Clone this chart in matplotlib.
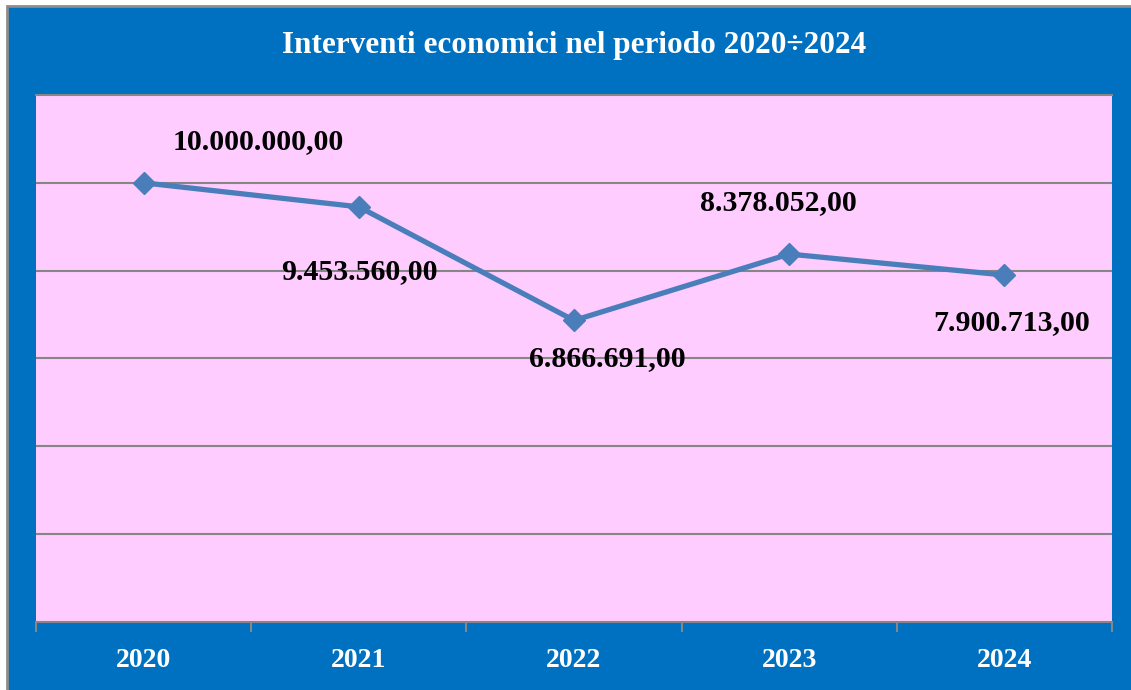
import matplotlib
matplotlib.use("Agg")
import matplotlib.pyplot as plt
from matplotlib.patches import Rectangle

years = ["2020", "2021", "2022", "2023", "2024"]
values = [10000000.00, 9453560.00, 6866691.00, 8378052.00, 7900713.00]
labels = ["10.000.000,00", "9.453.560,00", "6.866.691,00", "8.378.052,00", "7.900.713,00"]
title = "Interventi economici nel periodo 2020÷2024"

W, H = 1131, 690
fig = plt.figure(figsize=(W / 100, H / 100), dpi=100)
fig.patch.set_facecolor("white")

BLUE = "#0070C0"
# outer blue panel with gray border
fig.patches.append(Rectangle((7 / W, -0.01), 1.05 - 7 / W, 1.01 - 6 / H, transform=fig.transFigure,
                             facecolor=BLUE, edgecolor="#8C8C8C", linewidth=2, zorder=-5))

left, right, top, bottom = 36, 1112, 95, 622
ax = fig.add_axes([left / W, 1 - bottom / H, (right - left) / W, (bottom - top) / H])
ax.set_zorder(2)
ax.set_facecolor("#FFCCFF")

x = list(range(len(years)))
ax.plot(x, values, color="#4A7EBB", linewidth=3.8, marker="D", markersize=11,
        markeredgecolor="#4A7EBB", markerfacecolor="#4A7EBB", zorder=3, solid_capstyle="round")

ax.set_xlim(-0.5, len(years) - 0.5)
ax.set_ylim(0, 12000000)
ax.set_yticks([2e6, 4e6, 6e6, 8e6, 10e6])
ax.yaxis.grid(True, color="#868686", linewidth=1.5)
ax.set_axisbelow(True)
ax.tick_params(axis="y", left=False, labelleft=False)

ax.set_xticks(x)
ax.set_xticklabels(years, fontfamily="Liberation Serif", fontweight="bold", fontsize=20, color="white")
ax.tick_params(axis="x", length=0, pad=19)
ax.set_xticks([i - 0.5 for i in range(len(years) + 1)], minor=True)
ax.tick_params(axis="x", which="minor", length=7, width=1.5, color="#868686")

for s in ["left", "right"]:
    ax.spines[s].set_visible(False)
ax.spines["top"].set_color("#868686")
ax.spines["top"].set_linewidth(1.5)
ax.spines["bottom"].set_color("#868686")
ax.spines["bottom"].set_linewidth(1.5)

# data labels (offsets in pixels)
offsets = [(115, 41), (1, -65), (33, -38), (-11, 52), (7, -48)]
for xi, v, lab, (dx, dy) in zip(x, values, labels, offsets):
    ax.annotate(lab, (xi, v), xytext=(dx, dy), textcoords="offset pixels",
                ha="center", va="center", fontfamily="Liberation Serif", fontweight="bold",
                fontsize=21.5, color="black")

fig.text(574 / W, 1 - 46 / H, title, ha="center", va="center", color="white",
         fontfamily="Liberation Serif", fontweight="bold", fontsize=22.5)

fig.savefig("out.png", dpi=100, facecolor=fig.get_facecolor())
